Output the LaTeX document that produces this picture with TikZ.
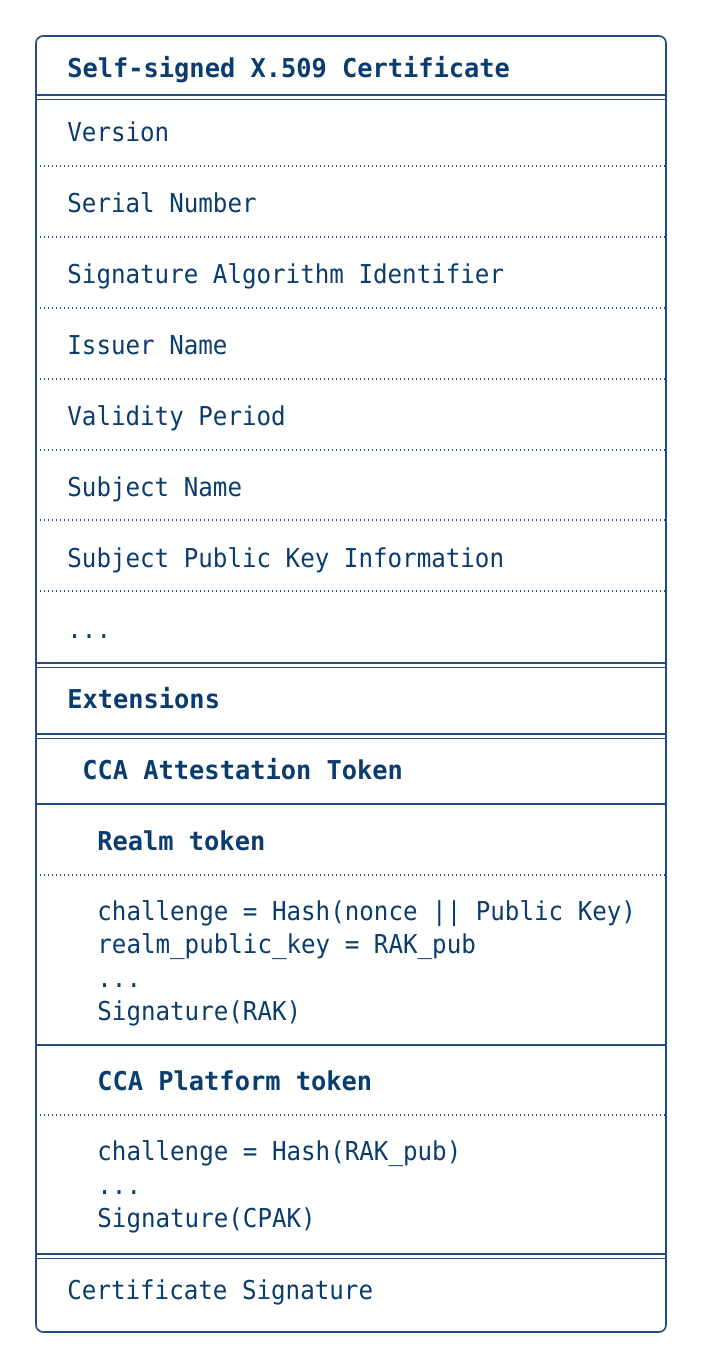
\documentclass[tikz,border=0pt]{standalone}
\usepackage{fontspec}
\setmonofont[FakeStretch=0.93,BoldFeatures={FakeStretch=0.975}]{DejaVu Sans Mono}
\definecolor{certtext}{HTML}{0B3C6E}
\definecolor{certline}{HTML}{1F4E7F}
\tikzset{
  field/.style={anchor=base west, inner sep=0pt, text=certtext,
    font=\ttfamily\fontsize{13}{16}\selectfont},
  fieldhead/.style={field, font=\ttfamily\bfseries\fontsize{13}{16}\selectfont},
  rule/.style={draw=certline, line width=0.8pt},
  thinrule/.style={draw=certline, line width=0.65pt},
  dotrule/.style={draw=certline, line width=0.6pt, dash pattern=on 0.6pt off 1.4pt},
}
\begin{document}
\begin{tikzpicture}[x=0.5pt,y=-0.5pt]
\useasboundingbox (0,0) rectangle (704,1368);
\draw[rule, rounded corners=3.5pt] (36,36) rectangle (666,1332);

% title and plain fields
\node[fieldhead] (title) at (67,78) {Self-signed X.509 Certificate};
\foreach \nm/\txt/\y in {version/Version/142, serial/Serial Number/213,
    sigalg/Signature Algorithm Identifier/284, issuer/Issuer Name/355,
    validity/Validity Period/426, subject/Subject Name/496,
    spki/Subject Public Key Information/567}
  \node[field] (f-\nm) at (67,\y) {\txt};
\node[field] (f-more) at (67,638) {...};
\foreach \y in {166,237,308,379,450,520,591}
  \draw[dotrule] (36,\y) -- (666,\y);

% double separators
\foreach \y in {95,663,734,1254}
  \draw[thinrule] (36,\y) -- (666,\y) (36,\y+4.5) -- (666,\y+4.5);

% extensions
\node[fieldhead] (ext) at (67,708) {Extensions};
\node[fieldhead] (cca) at (82,779) {CCA Attestation Token};
\draw[rule] (36,804) -- (666,804);

% realm token
\node[fieldhead] (realm) at (97,850) {Realm token};
\draw[dotrule] (36,875) -- (666,875);
\node[field] (realm-1) at (97,920) {challenge = Hash(nonce || Public Key)};
\node[field] (realm-2) at (97,953) {realm\_public\_key = RAK\_pub};
\node[field] (realm-3) at (97,987) {...};
\node[field] (realm-4) at (97,1020) {Signature(RAK)};
\draw[rule] (36,1045) -- (666,1045);

% platform token
\node[fieldhead] (plat) at (97,1090) {CCA Platform token};
\draw[dotrule] (36,1115) -- (666,1115);
\node[field] (plat-1) at (97,1160) {challenge = Hash(RAK\_pub)};
\node[field] (plat-2) at (97,1194) {...};
\node[field] (plat-3) at (97,1227) {Signature(CPAK)};

% signature
\node[field] (certsig) at (67,1299) {Certificate Signature};
\end{tikzpicture}
\end{document}
